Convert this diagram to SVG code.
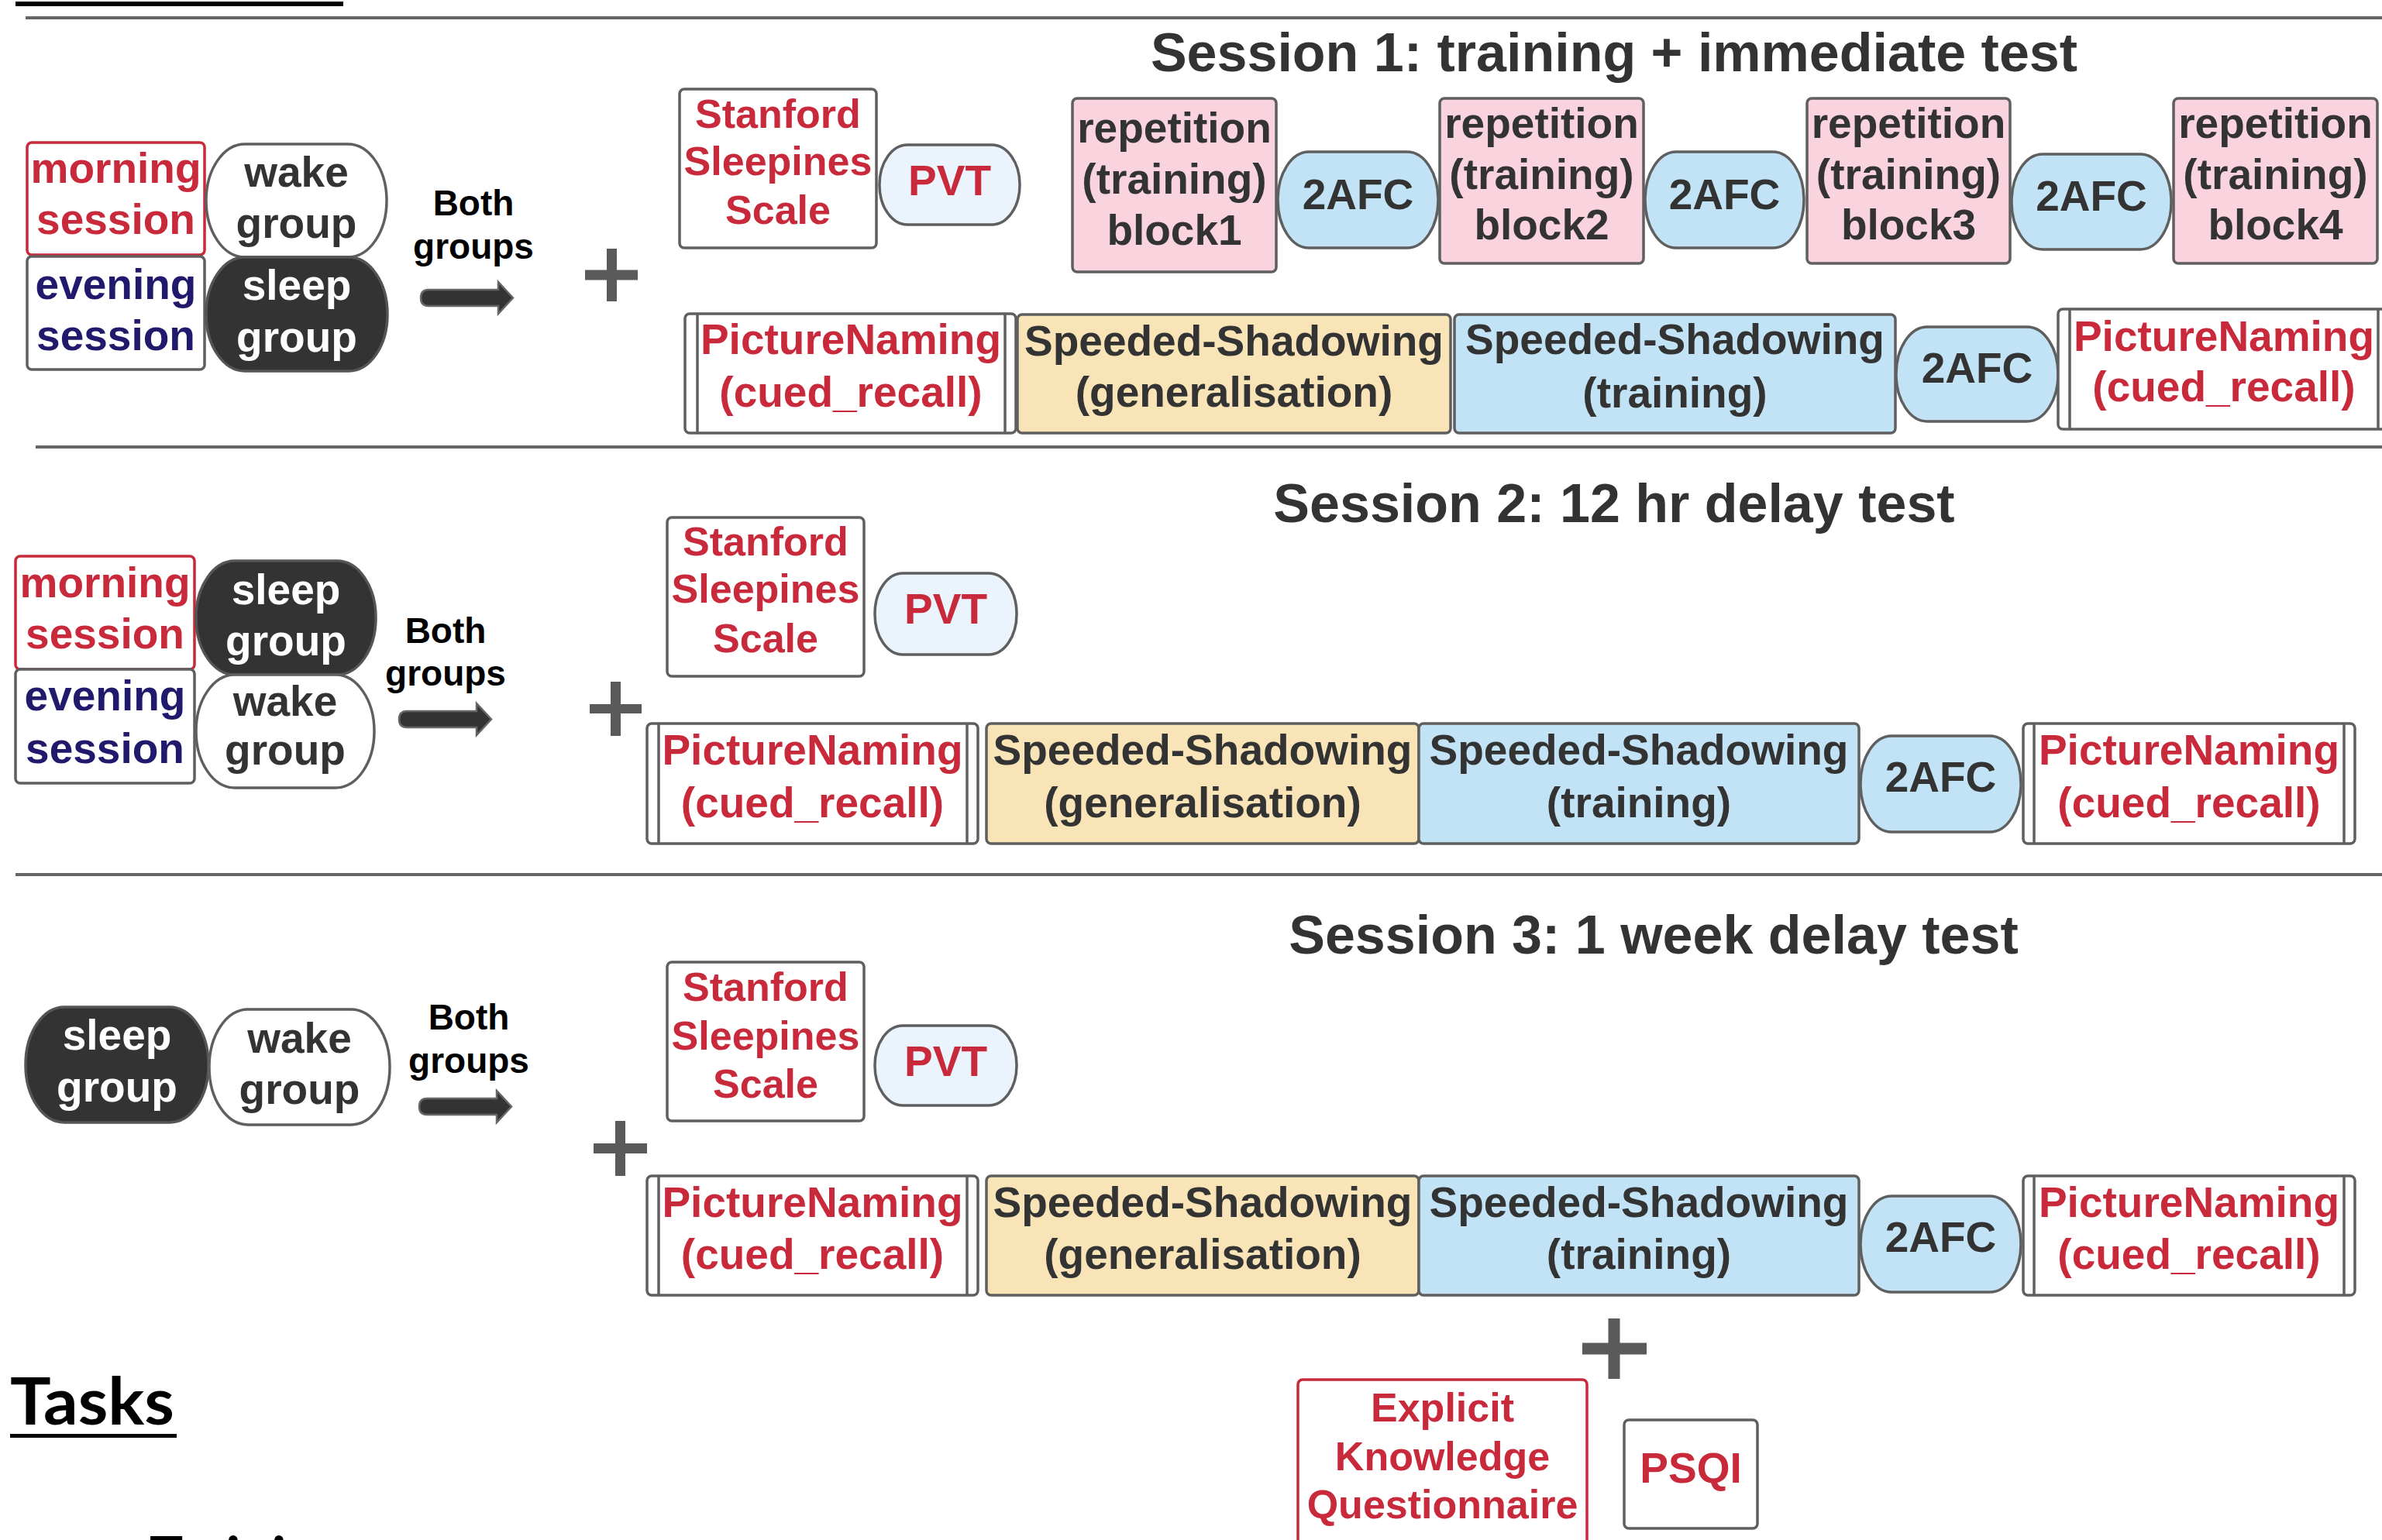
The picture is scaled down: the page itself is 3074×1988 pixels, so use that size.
<svg xmlns="http://www.w3.org/2000/svg" width="3074" height="1988" viewBox="0 0 3074 1988">
<style>
.bx{stroke:#5f5f5f;stroke-width:3.5;fill:#fff}
.rb{stroke:#c82a3b;stroke-width:3.5;fill:#fff}
.pink{fill:#f9d3de}
.blue{fill:#c2e3f5}
.pale{fill:#ebf4fd}
.yel{fill:#f9e4b7}
.dkf{fill:#333;stroke:#555;stroke-width:3.5}
.il{stroke:#5f5f5f;stroke-width:3.5}
.sep{stroke:#666;stroke-width:4}
text{font-family:"Liberation Sans",Arial,sans-serif;font-weight:bold;text-anchor:middle}
.n{font-size:55px}
.s{font-size:52px}
.ti{font-size:70px;fill:#333}
.bg{font-size:46px;fill:#000}
.red{fill:#c82a3b}
.navy{fill:#21196c}
.dk{fill:#333}
.wh{fill:#fff}
.plus{fill:#5a5a5a}
.arr{fill:#333;stroke:#666;stroke-width:2.5}
</style>
<defs>
<path id="arrow" d="M10 10 L100 10 L100 0 L119 20.5 L100 41 L100 31 L10 31 Q0 31 0 20.5 Q0 10 10 10 Z"/>
</defs>

<g id="header-lines">
<rect x="20" y="2" width="423" height="6" fill="#000"/>
<line class="sep" x1="33" y1="23" x2="3074" y2="23"/>
<line class="sep" x1="46" y1="577" x2="3074" y2="577"/>
<line class="sep" x1="20" y1="1129" x2="3074" y2="1129"/>
</g>

<g id="connectors">
<use href="#arrow" class="arr" transform="translate(543,364)"/>
<use href="#arrow" class="arr" transform="translate(515,908)"/>
<use href="#arrow" class="arr" transform="translate(541,1408)"/>
<g class="plus">
<rect x="783" y="321" width="13" height="68"/><rect x="755" y="348.5" width="68" height="13"/>
<rect x="788" y="880" width="13" height="70"/><rect x="761" y="909" width="67" height="12"/>
<rect x="794" y="1447" width="13" height="71"/><rect x="766" y="1476" width="69" height="13"/>
<rect x="2075.5" y="1702" width="15" height="78"/><rect x="2042" y="1733.5" width="83" height="15"/>
</g>
</g>

<!-- Session 1 -->
<g id="s1-title"><text class="ti" x="2083" y="92">Session 1: training + immediate test</text></g>
<g id="s1-morning"><rect class="rb" x="35" y="184" width="229" height="145" rx="6"/>
<text class="n red" x="149.5" y="236">morning</text><text class="n red" x="149.5" y="302">session</text></g>
<g id="s1-evening"><rect class="bx" x="35" y="331" width="229" height="146" rx="6"/>
<text class="n navy" x="149.5" y="386">evening</text><text class="n navy" x="149.5" y="452">session</text></g>
<g id="s1-wake"><rect class="bx" x="266" y="186" width="233" height="146" rx="50" ry="73"/>
<text class="n dk" x="382.5" y="241">wake</text><text class="n dk" x="382.5" y="307">group</text></g>
<g id="s1-sleep"><rect class="dkf" x="266" y="332" width="234" height="147" rx="50" ry="73"/>
<text class="n wh" x="383" y="387">sleep</text><text class="n wh" x="383" y="454">group</text></g>
<g id="s1-both"><text class="bg" x="611" y="278">Both</text><text class="bg" x="611" y="334">groups</text></g>
<g id="s1-sss"><rect class="bx" x="877" y="115" width="254" height="205" rx="6"/>
<text class="s red" x="1004" y="165">Stanford</text><text class="s red" x="1004" y="226">Sleepines</text><text class="s red" x="1004" y="289">Scale</text></g>
<g id="s1-pvt"><rect class="bx pale" x="1135" y="187" width="181" height="103" rx="36" ry="51"/>
<text class="n red" x="1225.5" y="252">PVT</text></g>
<g id="s1-block1"><rect class="bx pink" x="1384" y="127" width="263" height="224" rx="6"/>
<text class="n dk" x="1515.5" y="184">repetition</text><text class="n dk" x="1515.5" y="250">(training)</text><text class="n dk" x="1515.5" y="316">block1</text></g>
<g id="s1-2afc1"><rect class="bx blue" x="1649" y="196" width="207" height="124" rx="40" ry="62"/>
<text class="n dk" x="1752.5" y="270">2AFC</text></g>
<g id="s1-block2"><rect class="bx pink" x="1858" y="127" width="263" height="213" rx="6"/>
<text class="n dk" x="1989.5" y="178">repetition</text><text class="n dk" x="1989.5" y="244">(training)</text><text class="n dk" x="1989.5" y="309">block2</text></g>
<g id="s1-2afc2"><rect class="bx blue" x="2123" y="196" width="205" height="124" rx="40" ry="62"/>
<text class="n dk" x="2225.5" y="270">2AFC</text></g>
<g id="s1-block3"><rect class="bx pink" x="2332" y="127" width="262" height="213" rx="6"/>
<text class="n dk" x="2463" y="178">repetition</text><text class="n dk" x="2463" y="244">(training)</text><text class="n dk" x="2463" y="309">block3</text></g>
<g id="s1-2afc3"><rect class="bx blue" x="2596" y="199" width="206" height="123" rx="40" ry="61"/>
<text class="n dk" x="2699" y="272">2AFC</text></g>
<g id="s1-block4"><rect class="bx pink" x="2805" y="127" width="263" height="213" rx="6"/>
<text class="n dk" x="2936.5" y="178">repetition</text><text class="n dk" x="2936.5" y="244">(training)</text><text class="n dk" x="2936.5" y="309">block4</text></g>
<g id="s1-pn1"><rect class="bx" x="884" y="405" width="427" height="154" rx="6"/>
<line class="il" x1="900" y1="405" x2="900" y2="559"/><line class="il" x1="1297" y1="405" x2="1297" y2="559"/>
<text class="n red" x="1098" y="457">PictureNaming</text><text class="n red" x="1098" y="525">(cued_recall)</text></g>
<g id="s1-ssgen"><rect class="bx yel" x="1313" y="406" width="559" height="153" rx="6"/>
<text class="n dk" x="1592.5" y="459">Speeded-Shadowing</text><text class="n dk" x="1592.5" y="525">(generalisation)</text></g>
<g id="s1-sstr"><rect class="bx blue" x="1877" y="406" width="569" height="153" rx="6"/>
<text class="n dk" x="2161.5" y="457">Speeded-Shadowing</text><text class="n dk" x="2161.5" y="526">(training)</text></g>
<g id="s1-2afc4"><rect class="bx blue" x="2447" y="422" width="209" height="122" rx="40" ry="61"/>
<text class="n dk" x="2551.5" y="494">2AFC</text></g>
<g id="s1-pn2"><rect class="bx" x="2656" y="399" width="428" height="155" rx="6"/>
<line class="il" x1="2671" y1="399" x2="2671" y2="554"/><line class="il" x1="3069" y1="399" x2="3069" y2="554"/>
<text class="n red" x="2870" y="453">PictureNaming</text><text class="n red" x="2870" y="518">(cued_recall)</text></g>

<!-- Session 2 -->
<g id="s2-title"><text class="ti" x="2083" y="674">Session 2: 12 hr delay test</text></g>
<g id="s2-morning"><rect class="rb" x="20" y="718" width="231" height="146" rx="6"/>
<text class="n red" x="135.5" y="771">morning</text><text class="n red" x="135.5" y="837">session</text></g>
<g id="s2-evening"><rect class="bx" x="20" y="864" width="231" height="147" rx="6"/>
<text class="n navy" x="135.5" y="917">evening</text><text class="n navy" x="135.5" y="985">session</text></g>
<g id="s2-sleep"><rect class="dkf" x="253" y="724" width="232" height="147" rx="50" ry="73"/>
<text class="n wh" x="369" y="780">sleep</text><text class="n wh" x="369" y="846">group</text></g>
<g id="s2-wake"><rect class="bx" x="253" y="871" width="230" height="146" rx="50" ry="73"/>
<text class="n dk" x="368" y="924">wake</text><text class="n dk" x="368" y="987">group</text></g>
<g id="s2-both"><text class="bg" x="575" y="830">Both</text><text class="bg" x="575" y="885">groups</text></g>
<g id="s2-sss"><rect class="bx" x="861" y="668" width="254" height="205" rx="6"/>
<text class="s red" x="988" y="717">Stanford</text><text class="s red" x="988" y="778">Sleepines</text><text class="s red" x="988" y="842">Scale</text></g>
<g id="s2-pvt"><rect class="bx pale" x="1129" y="740" width="183" height="105" rx="36" ry="52"/>
<text class="n red" x="1220.5" y="805">PVT</text></g>
<g id="s2-pn1"><rect class="bx" x="835" y="934" width="427" height="155" rx="6"/>
<line class="il" x1="850" y1="934" x2="850" y2="1089"/><line class="il" x1="1248" y1="934" x2="1248" y2="1089"/>
<text class="n red" x="1048.5" y="987">PictureNaming</text><text class="n red" x="1048.5" y="1055">(cued_recall)</text></g>
<g id="s2-ssgen"><rect class="bx yel" x="1273" y="934" width="558" height="155" rx="6"/>
<text class="n dk" x="1552" y="987">Speeded-Shadowing</text><text class="n dk" x="1552" y="1055">(generalisation)</text></g>
<g id="s2-sstr"><rect class="bx blue" x="1831" y="934" width="568" height="155" rx="6"/>
<text class="n dk" x="2115" y="987">Speeded-Shadowing</text><text class="n dk" x="2115" y="1055">(training)</text></g>
<g id="s2-2afc"><rect class="bx blue" x="2401" y="950" width="207" height="124" rx="40" ry="62"/>
<text class="n dk" x="2504.5" y="1022">2AFC</text></g>
<g id="s2-pn2"><rect class="bx" x="2611" y="934" width="428" height="155" rx="6"/>
<line class="il" x1="2625" y1="934" x2="2625" y2="1089"/><line class="il" x1="3025" y1="934" x2="3025" y2="1089"/>
<text class="n red" x="2825" y="987">PictureNaming</text><text class="n red" x="2825" y="1055">(cued_recall)</text></g>

<!-- Session 3 -->
<g id="s3-title"><text class="ti" x="2134" y="1231">Session 3: 1 week delay test</text></g>
<g id="s3-sleep"><rect class="dkf" x="33" y="1300" width="236" height="149" rx="50" ry="74"/>
<text class="n wh" x="151" y="1355">sleep</text><text class="n wh" x="151" y="1422">group</text></g>
<g id="s3-wake"><rect class="bx" x="270" y="1303" width="233" height="149" rx="50" ry="74"/>
<text class="n dk" x="386.5" y="1359">wake</text><text class="n dk" x="386.5" y="1425">group</text></g>
<g id="s3-both"><text class="bg" x="605" y="1329">Both</text><text class="bg" x="605" y="1385">groups</text></g>
<g id="s3-sss"><rect class="bx" x="861" y="1242" width="254" height="205" rx="6"/>
<text class="s red" x="988" y="1292">Stanford</text><text class="s red" x="988" y="1355">Sleepines</text><text class="s red" x="988" y="1417">Scale</text></g>
<g id="s3-pvt"><rect class="bx pale" x="1129" y="1324" width="183" height="103" rx="36" ry="51"/>
<text class="n red" x="1220.5" y="1389">PVT</text></g>
<g id="s3-pn1"><rect class="bx" x="835" y="1518" width="427" height="154" rx="6"/>
<line class="il" x1="850" y1="1518" x2="850" y2="1672"/><line class="il" x1="1248" y1="1518" x2="1248" y2="1672"/>
<text class="n red" x="1048.5" y="1571">PictureNaming</text><text class="n red" x="1048.5" y="1638">(cued_recall)</text></g>
<g id="s3-ssgen"><rect class="bx yel" x="1273" y="1518" width="558" height="154" rx="6"/>
<text class="n dk" x="1552" y="1571">Speeded-Shadowing</text><text class="n dk" x="1552" y="1638">(generalisation)</text></g>
<g id="s3-sstr"><rect class="bx blue" x="1831" y="1518" width="568" height="154" rx="6"/>
<text class="n dk" x="2115" y="1571">Speeded-Shadowing</text><text class="n dk" x="2115" y="1638">(training)</text></g>
<g id="s3-2afc"><rect class="bx blue" x="2401" y="1544" width="207" height="124" rx="40" ry="62"/>
<text class="n dk" x="2504.5" y="1616">2AFC</text></g>
<g id="s3-pn2"><rect class="bx" x="2611" y="1518" width="428" height="154" rx="6"/>
<line class="il" x1="2625" y1="1518" x2="2625" y2="1672"/><line class="il" x1="3025" y1="1518" x2="3025" y2="1672"/>
<text class="n red" x="2825" y="1571">PictureNaming</text><text class="n red" x="2825" y="1638">(cued_recall)</text></g>
<g id="s3-ekq"><rect class="rb" x="1675" y="1781" width="373" height="240" rx="6"/>
<text class="s red" x="1861.5" y="1835">Explicit</text><text class="s red" x="1861.5" y="1898">Knowledge</text><text class="s red" x="1861.5" y="1960">Questionnaire</text></g>
<g id="s3-psqi"><rect class="bx" x="2096" y="1833" width="172" height="140" rx="6"/>
<text class="n red" x="2182" y="1914">PSQI</text></g>

<g id="tasks">
<text x="13" y="1839" style="font-family:Lato,'Open Sans',sans-serif;font-size:84px;text-anchor:start;fill:#000" textLength="212" lengthAdjust="spacingAndGlyphs">Tasks</text>
<rect x="13" y="1851" width="215" height="5" fill="#000"/>
<text x="193" y="2036" style="font-family:Lato,'Open Sans',sans-serif;font-size:72px;text-anchor:start;fill:#000">Training</text>
</g>
</svg>
